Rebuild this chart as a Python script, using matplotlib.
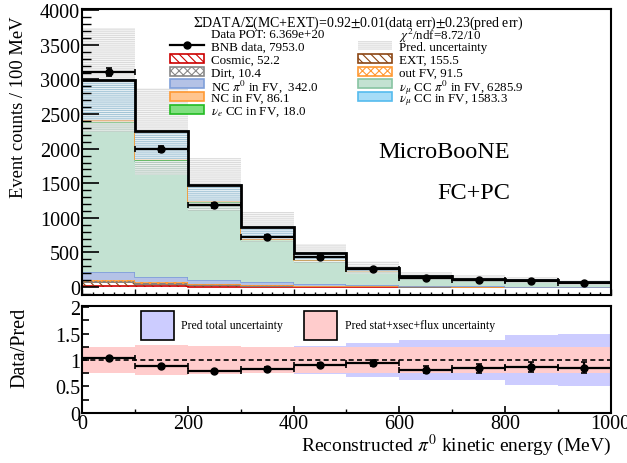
import numpy as np
import matplotlib.pyplot as plt
from matplotlib.patches import Rectangle
from matplotlib.lines import Line2D
from matplotlib.ticker import MultipleLocator

plt.rcParams['font.family'] = ['Liberation Serif', 'DejaVu Serif']
plt.rcParams['mathtext.fontset'] = 'stix'
plt.rcParams['hatch.linewidth'] = 0.8

# bins: reconstructed pi0 kinetic energy (MeV)
edges = np.arange(0, 1001, 100)
centers = edges[:-1] + 50

# stacked predictions, bottom to top
cosmic = [22, 12, 8, 4, 2.5, 1.5, 1, 0.6, 0.4, 0.2]
ext = [50, 35, 25, 17, 11, 7, 4.5, 3, 1.8, 1.2]
dirt = [3, 2.5, 1.8, 1.2, 0.8, 0.5, 0.3, 0.2, 0.1, 0.0]
out_fv = [24, 22, 16, 11, 7, 4.5, 3, 2, 1.2, 0.8]
nc_pi0 = [125, 80, 55, 35, 20, 12, 7, 4, 2.5, 1.5]
numu_cc_pi0 = [2160, 1675, 1125, 615, 350, 200, 110, 90, 80, 60]
nue_cc = [5, 4, 3, 2, 1.5, 1, 0.6, 0.4, 0.3, 0.2]
nc = [30, 20, 14, 9, 5, 3, 2, 1.5, 1, 0.6]
numu_cc = [570, 400, 232, 170, 88, 50, 33, 20, 12, 8]

data = [3105, 1995, 1180, 720, 440, 262, 132, 103, 87, 62]
data_err = [56, 45, 34, 27, 21, 16, 11.5, 10, 9.3, 7.9]

# fractional prediction uncertainties
total_unc = [0.25, 0.28, 0.26, 0.25, 0.27, 0.33, 0.38, 0.38, 0.47, 0.50]
sxf_unc = [0.25, 0.29, 0.27, 0.25, 0.25, 0.25, 0.24, 0.24, 0.24, 0.24]

styles = {
    'cosmic': dict(facecolor='none', edgecolor='#cc0000', hatch='\\\\\\\\'),
    'ext': dict(facecolor='none', edgecolor='#8b4513', hatch='\\\\\\\\'),
    'dirt': dict(facecolor='none', edgecolor='#888888', hatch='xxxx'),
    'out_fv': dict(facecolor='none', edgecolor='#ff9933', hatch='xxxx'),
    'nc_pi0': dict(facecolor='#b4c2e6', edgecolor='#7f9fd9'),
    'numu_cc_pi0': dict(facecolor='#c3e2d2', edgecolor='#88c4a2'),
    'nue_cc': dict(facecolor='#80e080', edgecolor='#22bb22'),
    'nc': dict(facecolor='#ffc58f', edgecolor='#ff9933'),
    'numu_cc': dict(facecolor='#a6dcf7', edgecolor='#55bbee'),
}
stack = [('cosmic', cosmic), ('ext', ext), ('dirt', dirt), ('out_fv', out_fv),
         ('nc_pi0', nc_pi0), ('numu_cc_pi0', numu_cc_pi0), ('nue_cc', nue_cc),
         ('nc', nc), ('numu_cc', numu_cc)]
unc_style = dict(facecolor=(0.6, 0.6, 0.6, 0.35), edgecolor=(1, 1, 1, 0.75),
                 hatch='--------', linewidth=0)

fig = plt.figure(figsize=(6.27, 4.64), dpi=100)
ax = fig.add_axes([0.131, 0.362, 0.843, 0.616])
ax2 = fig.add_axes([0.131, 0.108, 0.843, 0.230])

bottom = np.zeros(len(centers))
for name, vals in stack:
    st = styles[name]
    top = bottom + np.array(vals)
    ax.stairs(top, edges, baseline=bottom, fill=True, linewidth=0, **st)
    ax.stairs(top, edges, baseline=None, color=st['edgecolor'],
              linewidth=0.5 if name == 'nue_cc' else 1.2)
    bottom = top
total = bottom

ax.stairs(total * (1 + np.array(total_unc)), edges,
          baseline=total * (1 - np.array(total_unc)), fill=True, **unc_style)
ax.stairs(total, edges, baseline=None, color='black', linewidth=2)

ax.errorbar(centers, data, xerr=50, yerr=data_err, fmt='o', color='black',
            markersize=5, elinewidth=1.6, capsize=2.5, capthick=1.2)

ax.set_xlim(0, 1000)
ax.set_ylim(-115, 4015)
ax.xaxis.set_major_locator(MultipleLocator(100))
ax.xaxis.set_minor_locator(MultipleLocator(20))
ax.yaxis.set_major_locator(MultipleLocator(500))
ax.yaxis.set_minor_locator(MultipleLocator(100))
ax.tick_params(which='both', direction='in', top=False, right=False,
               labelbottom=False, labelsize=14.5)
ax.tick_params(axis='y', which='major', length=12, width=1.2, pad=1.5)
ax.tick_params(axis='y', which='minor', length=6.5, width=1)
ax.tick_params(axis='x', which='major', length=4, width=1)
ax.tick_params(axis='x', which='minor', length=2, width=1)
for s in ax.spines.values():
    s.set_linewidth(1.5)


# legend laid out like the ROOT TLegend, positions in pixels of the figure
def top_frac(x, y):
    return (x - 82) / 529, (296 - y) / 286


def legend_entry(col, row, label, style=None, marker=False):
    hx = [170, 358][col]
    tx = [211, 399][col]
    y = 33.5 + 12.8 * row
    if style is not None:
        x0, y0 = top_frac(hx, y + 4.5)
        x1, y1 = top_frac(hx + 34, y - 4.5)
        st = dict(style)
        if st.get('facecolor') == 'none':
            st['facecolor'] = 'white'
        ax.add_patch(Rectangle((x0, y0), x1 - x0, y1 - y0, transform=ax.transAxes,
                               clip_on=False, linewidth=st.pop('linewidth', 1.2), **st))
    if marker:
        xa, ya = top_frac(hx, y)
        xb, _ = top_frac(hx + 34, y)
        ax.add_line(Line2D([xa, xb], [ya, ya], color='black', linewidth=1.6,
                           transform=ax.transAxes, clip_on=False))
        ax.add_line(Line2D([(xa + xb) / 2], [ya], color='black', marker='o', markersize=5,
                           transform=ax.transAxes, clip_on=False))
    xt, yt = top_frac(tx, y)
    ax.text(xt, yt, label, transform=ax.transAxes, ha='left', va='center_baseline',
            fontsize=9.4)


xt, yt = top_frac(358, 20.5)
ax.text(xt, yt, r'$\Sigma$DATA/$\Sigma$(MC+EXT)=0.92$\pm$0.01(data err)$\pm$0.23(pred err)',
        transform=ax.transAxes, ha='center', va='center_baseline', fontsize=10)
legend_entry(0, 0, 'Data POT: 6.369e+20')
legend_entry(1, 0, r'$\chi^2$/ndf=8.72/10')
legend_entry(0, 1, 'BNB data, 7953.0', marker=True)
legend_entry(1, 1, 'Pred. uncertainty', style=unc_style)
legend_entry(0, 2, 'Cosmic, 52.2', style=styles['cosmic'])
legend_entry(1, 2, 'EXT, 155.5', style=styles['ext'])
legend_entry(0, 3, 'Dirt, 10.4', style=styles['dirt'])
legend_entry(1, 3, 'out FV, 91.5', style=styles['out_fv'])
legend_entry(0, 4, r'NC $\pi^0$ in FV,  342.0', style=styles['nc_pi0'])
legend_entry(1, 4, r'$\nu_\mu$ CC $\pi^0$ in FV, 6285.9', style=styles['numu_cc_pi0'])
legend_entry(0, 5, 'NC in FV, 86.1', style=styles['nc'])
legend_entry(1, 5, r'$\nu_\mu$ CC in FV, 1583.3', style=styles['numu_cc'])
legend_entry(0, 6, r'$\nu_e$ CC in FV, 18.0', style=styles['nue_cc'])

ax.text(0.809, 0.503, 'MicroBooNE', transform=ax.transAxes, ha='right', va='center',
        fontsize=17.5)
ax.text(0.809, 0.36, 'FC+PC', transform=ax.transAxes, ha='right', va='center',
        fontsize=17.5)

# ratio panel
ratio = np.array(data) / total
ratio_err = np.array(data_err) / total
ax2.stairs(1 + np.array(total_unc), edges, baseline=1 - np.array(total_unc),
           fill=True, color='#ccccff', linewidth=0)
ax2.stairs(1 + np.array(sxf_unc), edges, baseline=1 - np.array(sxf_unc),
           fill=True, color='#ffcccc', linewidth=0)
ax2.axhline(1, color='black', linestyle=(0, (3, 2)), linewidth=1.2)
ax2.errorbar(centers, ratio, xerr=50, yerr=ratio_err, fmt='o', color='black',
             markersize=5, elinewidth=1.6, capsize=2.5, capthick=1.2)

ax2.set_xlim(0, 1000)
ax2.set_ylim(0, 2.02)
ax2.xaxis.set_major_locator(MultipleLocator(200))
ax2.xaxis.set_minor_locator(MultipleLocator(100))
ax2.yaxis.set_minor_locator(MultipleLocator(0.25))
ax2.tick_params(which='both', direction='in', top=False, right=False, labelsize=14.5)
ax2.tick_params(axis='y', which='both', length=5, width=1.2, pad=1.5)
ax2.tick_params(axis='x', which='major', length=5, width=1.2, pad=0.5)
ax2.tick_params(axis='x', which='minor', length=3, width=1)
ax2.set_yticks([0, 0.5, 1, 1.5, 2])
ax2.set_yticklabels(['0', '0.5', '1', '1.5', '2'])
for s in ax2.spines.values():
    s.set_linewidth(1.5)


def ratio_frac(x, y):
    return (x - 82) / 529, (414 - y) / 107


for (bx, tx), color, label in [((141, 181), '#ccccff', 'Pred total uncertainty'),
                               ((304, 345), '#ffcccc', 'Pred stat+xsec+flux uncertainty')]:
    x0, y0 = ratio_frac(bx, 341)
    x1, y1 = ratio_frac(bx + 33, 312)
    ax2.add_patch(Rectangle((x0, y0), x1 - x0, y1 - y0, transform=ax2.transAxes,
                            facecolor=color, edgecolor='black', linewidth=1.2, clip_on=False))
    xt, yt = ratio_frac(tx, 326)
    ax2.text(xt, yt, label, transform=ax2.transAxes, ha='left', va='center', fontsize=8.5)

fig.text(18.5 / 627, 1 - 107.5 / 464, 'Event counts / 100 MeV', rotation=90,
         ha='center', va='center', fontsize=13.3)
fig.text(20 / 627, 1 - 348 / 464, 'Data/Pred', rotation=90, ha='center', va='center',
         fontsize=14.5)
fig.text(611 / 627, 1 - 445 / 464, r'Reconstructed $\pi^0$ kinetic energy (MeV)',
         ha='right', va='center', fontsize=14)

fig.savefig('out.png', dpi=100)
